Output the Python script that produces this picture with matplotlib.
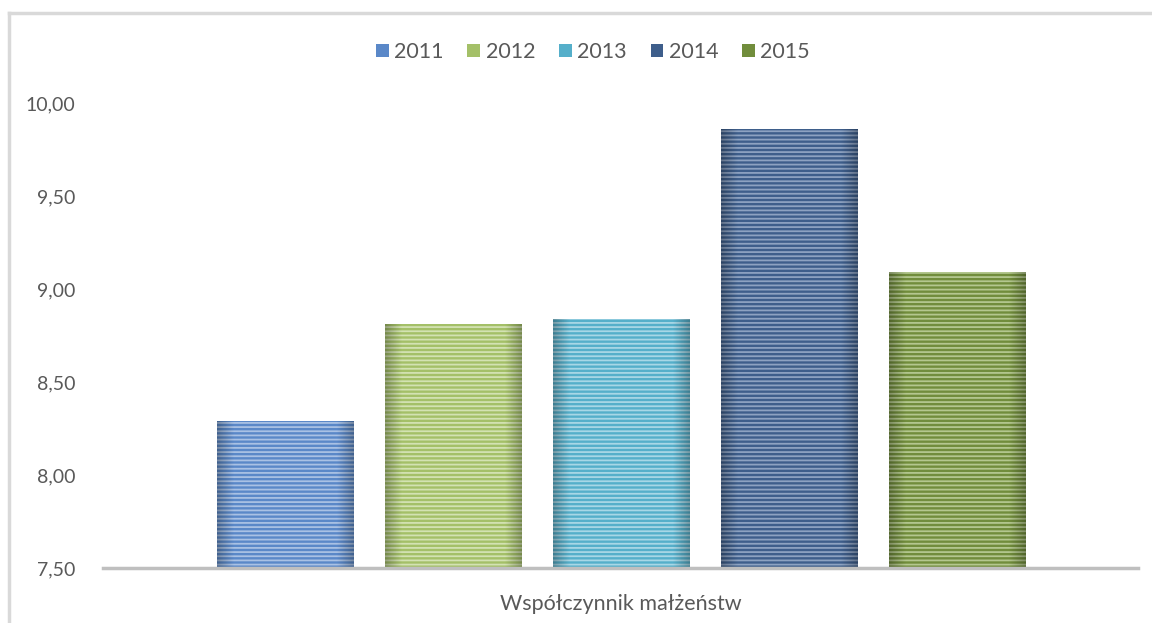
import numpy as np
import matplotlib.pyplot as plt

# Dane
lata = ["2011", "2012", "2013", "2014", "2015"]
wartosci = [8.29, 8.81, 8.84, 9.86, 9.09]
kategoria = "Współczynnik małżeństw"
yticki = [7.5, 8.0, 8.5, 9.0, 9.5, 10.0]

# Kolory: podstawowy i jasne paski
kolory = ["#5A88C8", "#A4C068", "#55AFCA", "#3E5E8B", "#718D3C"]
paski = ["#A9C1E4", "#D3E2B3", "#A8D7E6", "#8DA2C1", "#B4C78F"]

plt.rcParams['font.family'] = ['Lato', 'DejaVu Sans']
plt.rcParams['hatch.linewidth'] = 1.3

fig = plt.figure(figsize=(11.52, 6.23), dpi=100)
ax = fig.add_axes([103/1152, 1-568/623, (1138-103)/1152, (568-103)/623])

x = np.arange(len(lata))
szer = 0.815
for i in range(len(lata)):
    b = ax.bar(x[i], wartosci[i], width=szer, bottom=0, color=kolory[i],
               edgecolor='none', label=lata[i], zorder=2)
    ax.bar(x[i], wartosci[i], width=szer, bottom=0, facecolor='none',
           edgecolor=paski[i], hatch='----', linewidth=0, zorder=3)
    # cieniowanie na bokach
    p = b.patches[0]
    grad = np.zeros((1, 100, 4))
    t = np.linspace(0, 1, 100)
    grad[0, :, 3] = 0.28 * np.clip(1 - np.minimum(t, 1 - t) / 0.12, 0, 1)
    im = ax.imshow(grad, extent=[p.get_x(), p.get_x() + p.get_width(), 7.5, wartosci[i]],
                   aspect='auto', zorder=4, interpolation='bilinear')
    im.set_clip_path(p)

ax.set_xlim(-1.086, 5.074)
ax.set_ylim(7.5, 10.0)
ax.set_yticks(yticki)
ax.set_yticklabels([f"{v:.2f}".replace('.', ',') for v in yticki])
ax.set_xticks([])
ax.tick_params(axis='y', length=0, labelsize=14, labelcolor='#595959', pad=20)
for s in ['top', 'right', 'left']:
    ax.spines[s].set_visible(False)
ax.spines['bottom'].set_color('#BFBFBF')
ax.spines['bottom'].set_linewidth(2.5)
ax.spines['bottom'].set_zorder(5)

fig.text(621/1152, 1-604/623, kategoria, ha='center', va='center',
         fontsize=15.5, color='#595959')

h, l = ax.get_legend_handles_labels()
fig.legend(h, l, loc='center', bbox_to_anchor=(593/1152, 1-52/623), ncol=5,
           frameon=False, fontsize=15.5, labelcolor='#595959', handlelength=0.6,
           handleheight=0.6, handletextpad=0.25, columnspacing=1.1)

# ramka wykresu
fig.add_artist(plt.Line2D([9/1152, 9/1152], [0, 1-13/623], color='#D9D9D9', lw=2.5,
                          transform=fig.transFigure))
fig.add_artist(plt.Line2D([9/1152, 1], [1-13/623, 1-13/623], color='#D9D9D9', lw=2.5,
                          transform=fig.transFigure))

fig.savefig('out.png', dpi=100)
